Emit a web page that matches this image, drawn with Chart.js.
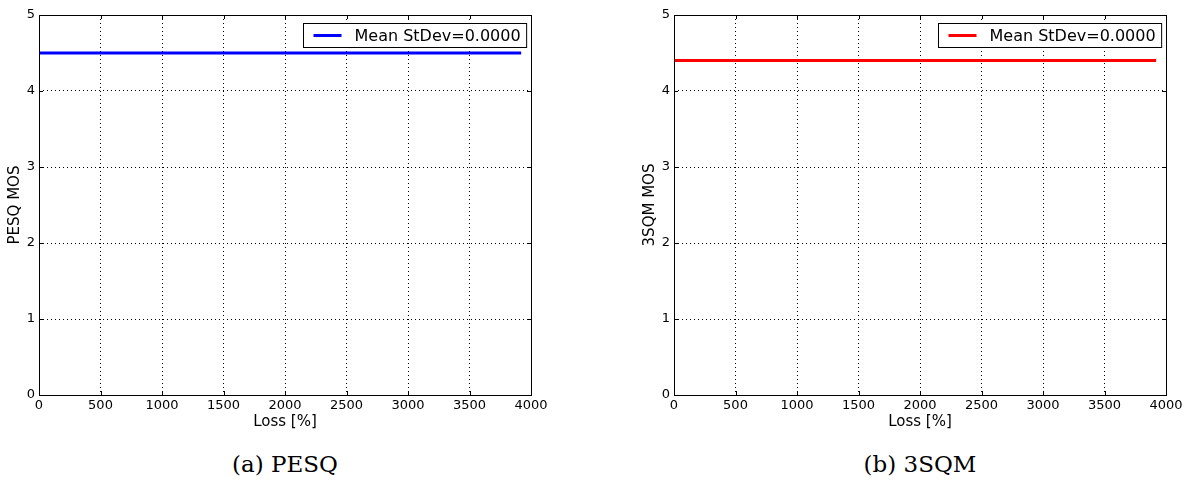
<!DOCTYPE html>
<html>
<head>
<meta charset="utf-8">
<script src="https://cdn.jsdelivr.net/npm/chart.js@4"></script>
<style>
  body { margin: 0; background: #fff; width: 1190px; height: 480px; position: relative; overflow: hidden; }
  .panel { position: absolute; top: 0; }
  .cap { position: absolute; top: 451px; font-family: "DejaVu Serif", serif; font-size: 23px; color: #000; text-align: center; width: 300px; }
</style>
</head>
<body>
<div class="panel" style="left:0px"><canvas id="pesqChart" width="580" height="431"></canvas></div>
<div class="panel" style="left:635px"><canvas id="sqmChart" width="555" height="431"></canvas></div>
<div class="cap" style="left:135px">(a) PESQ</div>
<div class="cap" style="left:770px">(b) 3SQM</div>
<script>
// values
const lossPct = [0, 3920];
const pesqMos = [4.5, 4.5];
const sqmMos = [4.4, 4.4];
const xTicks = [0, 500, 1000, 1500, 2000, 2500, 3000, 3500, 4000];
const yTicks = [0, 1, 2, 3, 4, 5];
const legendLabel = 'Mean StDev=0.0000';

const tickFont = { family: "'DejaVu Sans'", size: 13 };
const titleFont = { family: "'DejaVu Sans'", size: 15 };

// frame + inward ticks + legend box in the top right corner, matplotlib style
const frameAndLegend = {
    id: 'frameAndLegend',
    afterDatasetsDraw(chart) {
        const ctx = chart.ctx;
        const a = chart.chartArea;
        const xs = chart.scales.x, ys = chart.scales.y;
        ctx.save();
        ctx.strokeStyle = '#000';
        ctx.lineWidth = 1;
        ctx.setLineDash([]);
        ctx.strokeRect(Math.round(a.left) + 0.5, Math.round(a.top) + 0.5, Math.round(a.right - a.left), Math.round(a.bottom - a.top));
        ctx.beginPath();
        xTicks.forEach(v => {
            const px = Math.round(xs.getPixelForValue(v)) + 0.5;
            ctx.moveTo(px, a.bottom); ctx.lineTo(px, a.bottom - 4);
            ctx.moveTo(px, a.top); ctx.lineTo(px, a.top + 4);
        });
        yTicks.forEach(v => {
            const py = Math.round(ys.getPixelForValue(v)) + 0.5;
            ctx.moveTo(a.left, py); ctx.lineTo(a.left + 4, py);
            ctx.moveTo(a.right, py); ctx.lineTo(a.right - 4, py);
        });
        ctx.stroke();

        // legend
        const ds = chart.data.datasets[0];
        ctx.font = '16px "DejaVu Sans"';
        const tw = ctx.measureText(ds.label).width;
        const bw = tw + 57, bh = 24;
        const bx = Math.round(a.right - 5 - bw) + 0.5, by = Math.round(a.top + 8) + 0.5;
        ctx.fillStyle = '#fff';
        ctx.fillRect(bx, by, bw, bh);
        ctx.strokeRect(bx, by, bw, bh);
        ctx.strokeStyle = ds.borderColor;
        ctx.lineWidth = 3;
        ctx.beginPath();
        ctx.moveTo(bx + 10, by + bh / 2);
        ctx.lineTo(bx + 38, by + bh / 2);
        ctx.stroke();
        ctx.fillStyle = '#000';
        ctx.textBaseline = 'middle';
        ctx.fillText(ds.label, bx + 51, by + bh / 2 + 1);
        ctx.restore();
    }
};

function makeChart(id, values, color, yTitle, rightPad) {
    const ctx = document.getElementById(id).getContext('2d');
    return new Chart(ctx, {
        type: 'scatter',
        data: {
            datasets: [{
                label: legendLabel,
                data: lossPct.map((x, i) => ({ x: x, y: values[i] })),
                borderColor: color,
                backgroundColor: color,
                borderWidth: 3,
                showLine: true,
                pointRadius: 0
            }]
        },
        options: {
            responsive: false,
            animation: false,
            layout: { padding: { top: 15, right: rightPad, left: 0, bottom: 0 } },
            plugins: { legend: { display: false }, tooltip: { enabled: false } },
            scales: {
                x: {
                    type: 'linear', min: 0, max: 4000,
                    afterBuildTicks: s => { s.ticks = xTicks.map(v => ({ value: v })); },
                    afterFit: s => { s.height = 36; },
                    grid: { color: '#000', lineWidth: 1, drawTicks: false },
                    border: { display: false, dash: [1, 3] },
                    ticks: { color: '#000', font: tickFont, padding: 3, maxRotation: 0, autoSkip: false, callback: v => String(v) },
                    title: { display: true, text: 'Loss [%]', color: '#000', font: titleFont, padding: { top: 0, bottom: 0 } }
                },
                y: {
                    min: 0, max: 5,
                    afterBuildTicks: s => { s.ticks = yTicks.map(v => ({ value: v })); },
                    afterFit: s => { s.width = 39; },
                    grid: { color: '#000', lineWidth: 1, drawTicks: false },
                    border: { display: false, dash: [1, 3] },
                    ticks: { color: '#000', font: tickFont, padding: 4, callback: v => String(v) },
                    title: { display: true, text: yTitle, color: '#000', font: titleFont, padding: { top: 6, bottom: 0 } }
                }
            }
        },
        plugins: [frameAndLegend]
    });
}

makeChart('pesqChart', pesqMos, '#0000ff', 'PESQ MOS', 49);
makeChart('sqmChart', sqmMos, '#ff0000', '3SQM MOS', 24);
</script>
</body>
</html>
